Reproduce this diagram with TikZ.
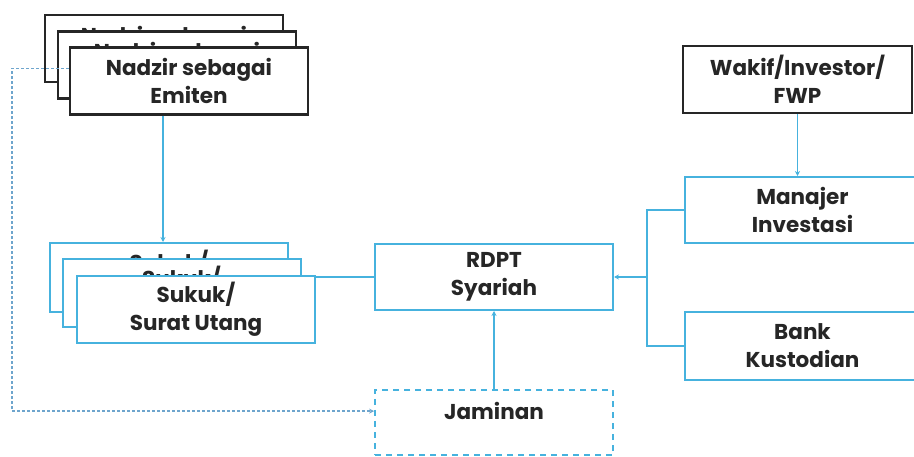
\documentclass[tikz,border=0pt]{standalone}
\usepackage{fontspec}
\setmainfont{Poppins}
\usetikzlibrary{arrows.meta,calc}
\definecolor{bl}{RGB}{70,178,222}
\definecolor{dotc}{RGB}{110,165,205}
\tikzset{
  txt/.style={font=\fontsize{21.5}{28}\selectfont\bfseries, align=center, text=black!85},
  blkbox/.style={txt, draw=black!85, line width=2.2pt, fill=white, minimum width=238pt, minimum height=67pt, inner sep=0pt},
  bluebox/.style={txt, draw=bl, line width=2pt, fill=white, minimum width=238pt, minimum height=67pt, inner sep=0pt},
  jambox/.style={txt, draw=bl, line width=1.8pt, dash pattern=on 6pt off 5pt, fill=white, minimum width=238pt, minimum height=65pt, inner sep=0pt, text height=29.5pt, text depth=35.5pt},
  conn/.style={draw=bl, line width=1.6pt},
  tip/.style={-{Stealth[length=5pt,width=5pt]}},
  dotline/.style={draw=dotc, line width=1.6pt, dash pattern=on 2.5pt off 2.5pt},
}
\begin{document}
\begin{tikzpicture}[x=1pt,y=-1pt]
\useasboundingbox (0,0) rectangle (914,457);
% Nadzir stack
\node[blkbox] (nz1) at (164,48.5) {Nadzir sebagai\\Emiten};
\node[blkbox] (nz2) at (177,65) {Nadzir sebagai\\Emiten};
\node[blkbox] (nz3) at (189,81) {Nadzir sebagai\\Emiten};
% Wakif
\node[blkbox, minimum width=229pt] (wk) at (797.5,79.5) {Wakif/Investor/\\FWP};
% Manajer / Bank
\node[bluebox, minimum width=235pt, minimum height=66pt] (mi) at (802.5,210) {Manajer\\Investasi};
\node[bluebox, minimum width=235pt, minimum height=68pt] (bk) at (802.5,346) {Bank\\Kustodian};
% RDPT
\node[bluebox, minimum height=66pt] (rd) at (494,277) {RDPT\\Syariah};
% Sukuk stack
\node[bluebox, minimum height=69pt] (sk1) at (169,277.5) {Sukuk/\\Surat Utang};
\node[bluebox, minimum height=68pt] (sk2) at (181.5,293) {Sukuk/\\Surat Utang};
\node[bluebox, minimum height=67pt] (sk3) at (196,309.5) {Sukuk/\\Surat Utang};
% Jaminan
\node[jambox] (jm) at (494,422.5) {Jaminan};
% connectors
\coordinate (bus) at ($(mi.west)+(-37,0)$);
\draw[conn,tip] ($(nz3.south)+(-26,0)$) -- ($(sk1.north)+(-6,0)$);
\draw[conn] (rd.west) -- (rd.west -| sk3.east);
\draw[conn] (mi.west) -- (bus) |- (bk.west);
\draw[conn,tip] (rd.east -| bus) -- (rd.east);
\draw[conn,tip] (wk.south) -- (wk.south |- mi.north);
\draw[conn,tip] (jm.north) -- (rd.south);
\draw[dotline,tip] ($(nz3.north west)+(0,22)$) -- ++(-57,0) |- ($(jm.north west)+(0,22)$);
\end{tikzpicture}
\end{document}
